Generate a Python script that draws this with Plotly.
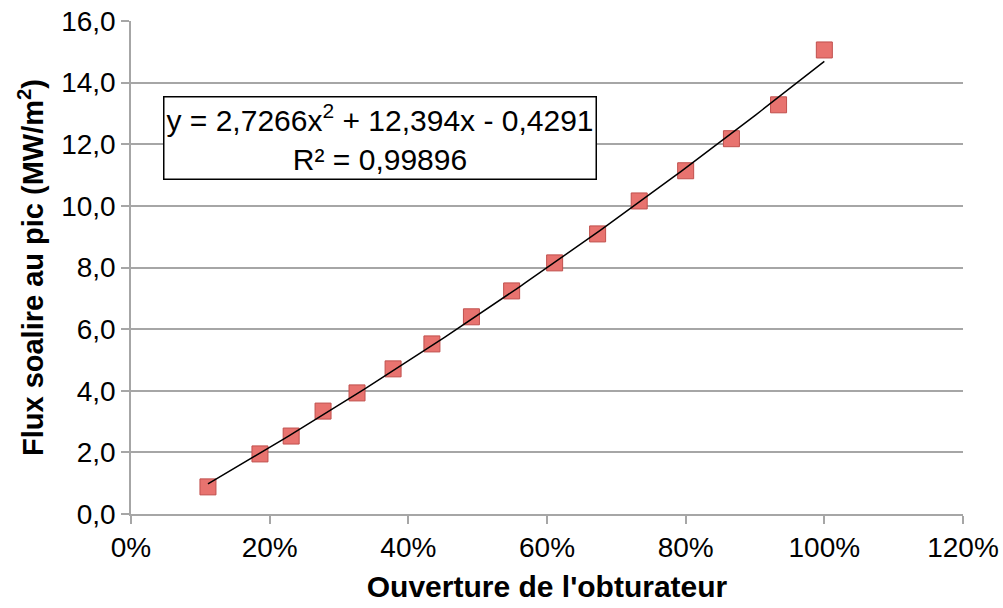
import numpy as np
import plotly.graph_objects as go

ouverture = [0.111, 0.186, 0.231, 0.277, 0.326, 0.378, 0.434, 0.491,
             0.549, 0.611, 0.673, 0.733, 0.800, 0.866, 0.934, 1.000]
flux = [0.88, 1.95, 2.53, 3.34, 3.93, 4.71, 5.52, 6.40,
        7.24, 8.15, 9.09, 10.16, 11.14, 12.18, 13.28, 15.06]
trend_coeffs = [2.7266, 12.394, -0.4291]
x_ticks = [0, 0.2, 0.4, 0.6, 0.8, 1.0, 1.2]
x_ticklabels = ["0%", "20%", "40%", "60%", "80%", "100%", "120%"]
y_ticks = [0, 2, 4, 6, 8, 10, 12, 14, 16]
y_ticklabels = ["0,0", "2,0", "4,0", "6,0", "8,0", "10,0", "12,0", "14,0", "16,0"]

xt = np.linspace(min(ouverture), max(ouverture), 100)
yt = np.polyval(trend_coeffs, xt)

FONT = "Liberation Sans, Arial, sans-serif"

fig = go.Figure()
fig.add_trace(go.Scatter(
    x=ouverture, y=flux, mode="markers",
    marker=dict(symbol="square", size=16, color="#e8736f",
                line=dict(color="#c0504d", width=1)),
    showlegend=False))
fig.add_trace(go.Scatter(
    x=xt, y=yt, mode="lines", line=dict(color="black", width=1.5),
    showlegend=False, hoverinfo="skip"))

fig.add_annotation(
    xref="paper", yref="paper", x=(380 - 131) / 832, y=(514 - 138) / 493,
    xanchor="center", yanchor="middle",
    text="y = 2,7266x<sup>2</sup> + 12,394x - 0,4291<br>R² = 0,99896",
    showarrow=False, align="center",
    font=dict(family=FONT, size=30, color="black"),
    bordercolor="black", borderwidth=1.5, borderpad=2, bgcolor="white")

fig.update_layout(
    width=1003, height=608,
    margin=dict(l=131, r=40, t=21, b=94),
    paper_bgcolor="white", plot_bgcolor="white",
    font=dict(family=FONT, size=28, color="black"),
    xaxis=dict(range=[0, 1.2], tickvals=x_ticks, ticktext=x_ticklabels,
               showgrid=False, zeroline=False, showline=True, automargin=False,
               linecolor="#a6a6a6", linewidth=1.5,
               ticks="outside", ticklen=8, tickcolor="#a6a6a6", tickwidth=1.5,
               tickfont=dict(family=FONT, size=28, color="black"),
               title=dict(text="<b>Ouverture de l'obturateur</b>",
                          font=dict(family=FONT, size=30, color="black"),
                          standoff=14)),
    yaxis=dict(range=[0, 16], tickvals=y_ticks, ticktext=y_ticklabels,
               showgrid=True, gridcolor="#a6a6a6", gridwidth=1.5,
               zeroline=False, showline=True, automargin=False,
               linecolor="#a6a6a6", linewidth=1.5,
               ticks="outside", ticklen=8, tickcolor="#a6a6a6", tickwidth=1.5,
               tickfont=dict(family=FONT, size=28, color="black"),
               title=dict(text="<b>Flux soalire au pic (MW/m<sup>2</sup>)</b>",
                          font=dict(family=FONT, size=29, color="black"),
                          standoff=9)),
)

fig.write_html("out.html", config={"displayModeBar": False},
               post_script="document.body.style.margin='0';document.body.style.overflow='hidden';")
